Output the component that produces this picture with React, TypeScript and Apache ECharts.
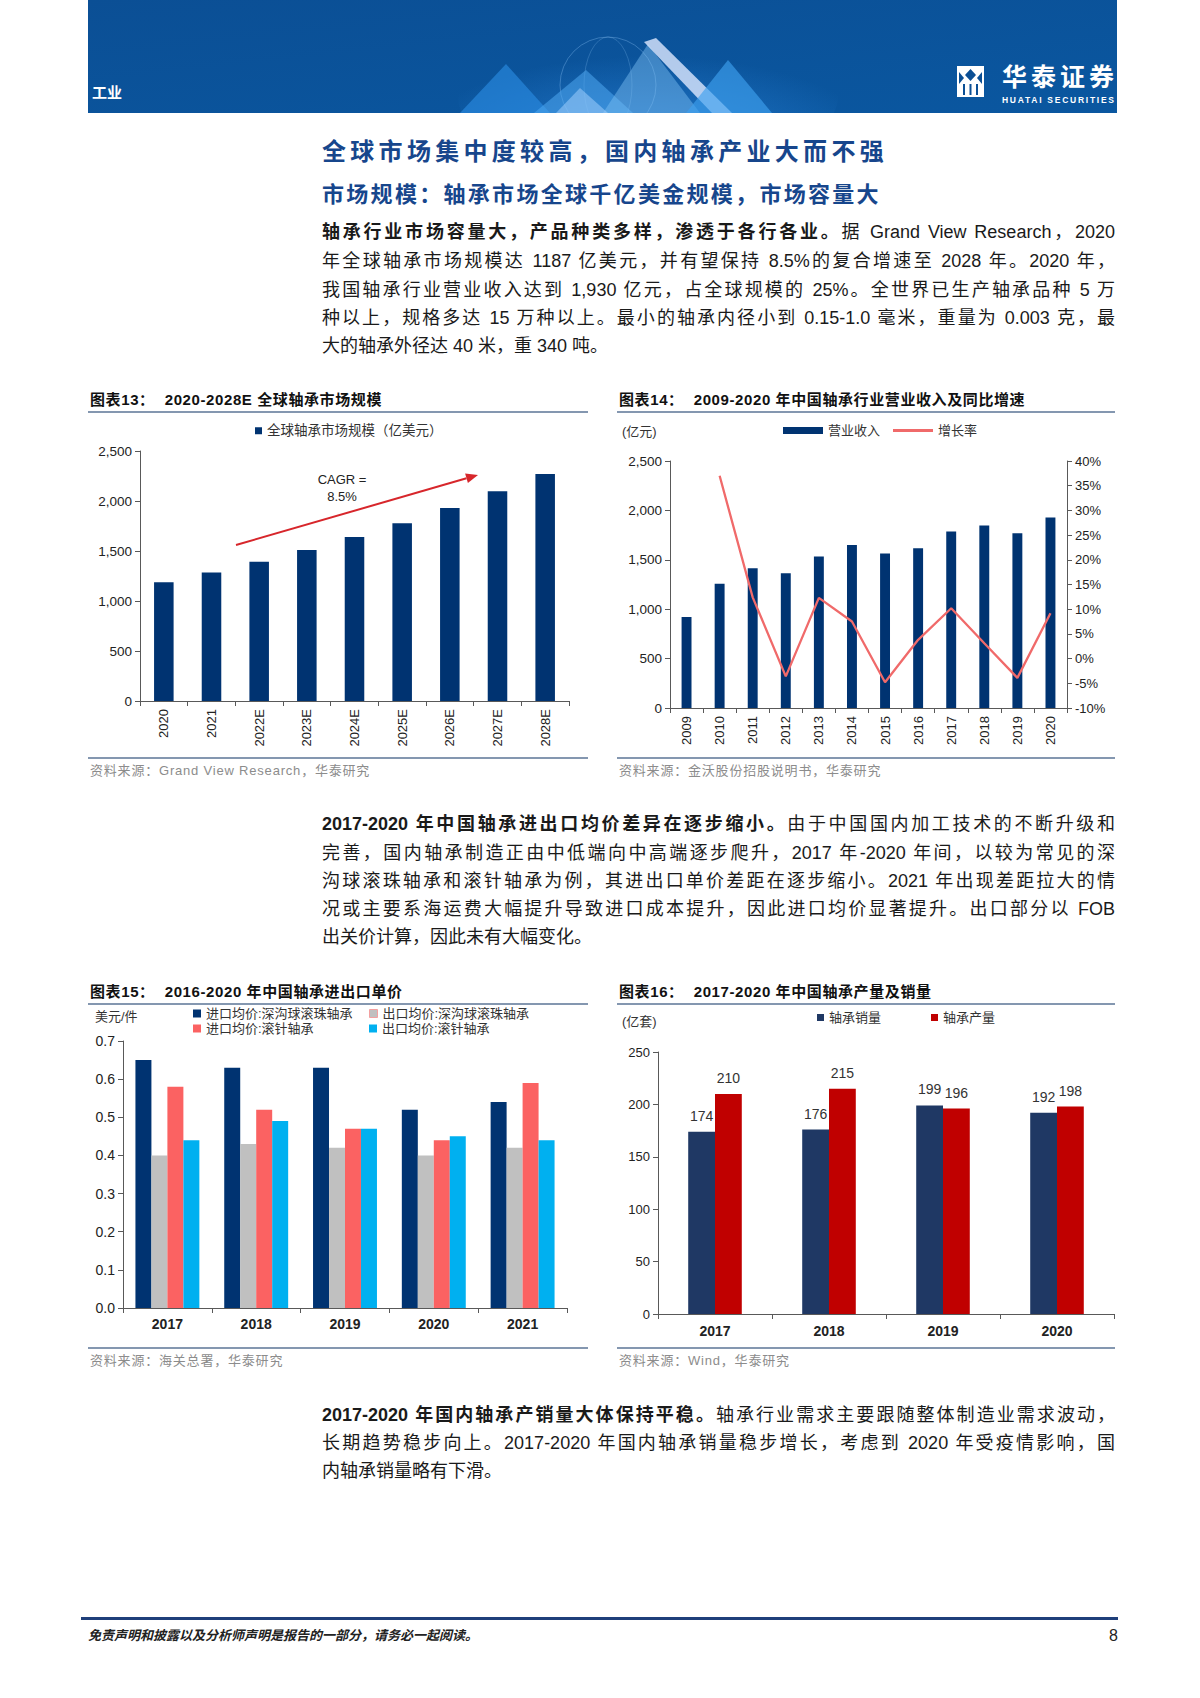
import React, { useEffect, useRef } from "react";
import * as echarts from "echarts";

const FONT = '"Liberation Sans", "Noto Sans CJK SC", sans-serif';

// ---------- Chart 13 data ----------
const years13 = ["2020", "2021", "2022E", "2023E", "2024E", "2025E", "2026E", "2027E", "2028E"];
const market13 = [1187, 1284, 1392, 1510, 1641, 1778, 1930, 2098, 2270];
const yAxis13 = { min: 0, max: 2500, interval: 500 };

// ---------- Chart 14 data ----------
const years14 = ["2009", "2010", "2011", "2012", "2013", "2014", "2015", "2016", "2017", "2018", "2019", "2020"];
const revenue14 = [920, 1257, 1415, 1365, 1533, 1651, 1563, 1617, 1786, 1846, 1769, 1927];
const growth14 = [null, 37.0, 12.4, -3.6, 12.3, 7.5, -4.8, 3.8, 10.2, 3.1, -3.9, 9.2];
const yLeft14 = { min: 0, max: 2500, interval: 500 };
const yRight14 = { min: -10, max: 40, interval: 5 };

// ---------- Chart 15 data ----------
const years15 = ["2017", "2018", "2019", "2020", "2021"];
const importBall15 = [0.65, 0.63, 0.63, 0.52, 0.54];
const exportBall15 = [0.4, 0.43, 0.42, 0.4, 0.42];
const importNeedle15 = [0.58, 0.52, 0.47, 0.44, 0.59];
const exportNeedle15 = [0.44, 0.49, 0.47, 0.45, 0.44];
const yAxis15 = { min: 0, max: 0.7, interval: 0.1 };

// ---------- Chart 16 data ----------
const years16 = ["2017", "2018", "2019", "2020"];
const sales16 = [174, 176, 199, 192];
const output16 = [210, 215, 196, 198];
const yAxis16 = { min: 0, max: 250, interval: 50 };

const AXIS_COLOR = "#595959";
const LABEL_COLOR = "#222";

function EChart({ option, style }: { option: any; style: React.CSSProperties }) {
  const ref = useRef<HTMLDivElement>(null);
  useEffect(() => {
    const chart = echarts.init(ref.current as HTMLDivElement, undefined, { renderer: "svg" });
    chart.setOption(option);
    return () => chart.dispose();
  }, []);
  return <div ref={ref} style={style} />;
}

const commonAxisLine = { show: true, lineStyle: { color: AXIS_COLOR, width: 1 } };
const commonTick = { show: true, length: 5, lineStyle: { color: AXIS_COLOR } };

const option13 = {
  animation: false,
  textStyle: { fontFamily: FONT },
  grid: { left: 52, right: 19, top: 36, bottom: 54 },
  legend: {
    data: ["全球轴承市场规模（亿美元）"],
    left: 167,
    top: 9,
    padding: 0,
    icon: "rect",
    itemWidth: 7,
    itemHeight: 7,
    itemStyle: { color: "#003371" },
    textStyle: { fontSize: 13.5, color: "#333", fontFamily: FONT },
  },
  xAxis: {
    type: "category",
    data: years13,
    axisLine: commonAxisLine,
    axisTick: commonTick,
    axisLabel: { rotate: 90, fontSize: 13, color: LABEL_COLOR, margin: 8, fontFamily: FONT },
  },
  yAxis: {
    type: "value",
    ...yAxis13,
    splitLine: { show: false },
    axisLine: commonAxisLine,
    axisTick: commonTick,
    axisLabel: {
      fontSize: 13.5,
      color: LABEL_COLOR,
      fontFamily: FONT,
      formatter: (v: number) => v.toLocaleString("en-US"),
    },
  },
  series: [
    {
      type: "bar",
      name: "全球轴承市场规模（亿美元）",
      data: market13,
      barWidth: "41%",
      itemStyle: { color: "#003371" },
    },
  ],
  graphic: [
    {
      type: "line",
      shape: { x1: 148, y1: 130, x2: 378.5, y2: 63.3 },
      style: { stroke: "#d7262b", lineWidth: 2 },
    },
    {
      type: "polygon",
      shape: { points: [[390, 60], [379.9, 68.1], [377.1, 58.5]] },
      style: { fill: "#d7262b" },
    },
    {
      type: "text",
      x: 254,
      y: 64,
      style: { text: "CAGR =", fontSize: 13, fill: "#222", fontFamily: FONT, textAlign: "center", textVerticalAlign: "middle", align: "center", verticalAlign: "middle" },
    },
    {
      type: "text",
      x: 254,
      y: 81,
      style: { text: "8.5%", fontSize: 13, fill: "#222", fontFamily: FONT, textAlign: "center", textVerticalAlign: "middle", align: "center", verticalAlign: "middle" },
    },
  ],
};

const option14 = {
  animation: false,
  textStyle: { fontFamily: FONT },
  grid: { left: 53, right: 48, top: 46, bottom: 47 },
  legend: [
    {
      data: ["营业收入"],
      left: 166,
      top: 9,
      padding: 0,
      icon: "rect",
      itemWidth: 40,
      itemHeight: 7,
      itemStyle: { color: "#003371" },
      textStyle: { fontSize: 13, color: "#333", fontFamily: FONT },
    },
    {
      data: ["增长率"],
      left: 276,
      top: 9,
      padding: 0,
      icon: "rect",
      itemWidth: 40,
      itemHeight: 3,
      itemStyle: { color: "#f06a6a" },
      textStyle: { fontSize: 13, color: "#333", fontFamily: FONT },
    },
  ],
  xAxis: {
    type: "category",
    data: years14,
    axisLine: commonAxisLine,
    axisTick: commonTick,
    axisLabel: { rotate: 90, fontSize: 13, color: LABEL_COLOR, margin: 8, fontFamily: FONT },
  },
  yAxis: [
    {
      type: "value",
      ...yLeft14,
      splitLine: { show: false },
      axisLine: commonAxisLine,
      axisTick: commonTick,
      axisLabel: {
        fontSize: 13.5,
        color: LABEL_COLOR,
        fontFamily: FONT,
        formatter: (v: number) => v.toLocaleString("en-US"),
      },
    },
    {
      type: "value",
      position: "right",
      ...yRight14,
      splitLine: { show: false },
      axisLine: commonAxisLine,
      axisTick: commonTick,
      axisLabel: { fontSize: 13, color: LABEL_COLOR, fontFamily: FONT, formatter: (v: number) => v + "%" },
    },
  ],
  series: [
    {
      type: "bar",
      name: "营业收入",
      data: revenue14,
      barWidth: "30%",
      itemStyle: { color: "#003371" },
    },
    {
      type: "line",
      name: "增长率",
      yAxisIndex: 1,
      data: growth14,
      showSymbol: false,
      symbol: "none",
      lineStyle: { color: "#f06a6a", width: 2.3 },
      itemStyle: { color: "#f06a6a" },
    },
  ],
  graphic: [
    {
      type: "text",
      x: 5,
      y: 16,
      style: { text: "(亿元)", fontSize: 13, fill: "#333", fontFamily: FONT, textVerticalAlign: "middle", verticalAlign: "middle" },
    },
  ],
};

const names15 = ["进口均价:深沟球滚珠轴承", "出口均价:深沟球滚珠轴承", "进口均价:滚针轴承", "出口均价:滚针轴承"];
const colors15 = ["#003371", "#c0c0c0", "#fb6262", "#00b0f0"];
const legendPos15 = [
  [105, 3],
  [281, 3],
  [105, 18],
  [281, 18],
];

const option15 = {
  animation: false,
  textStyle: { fontFamily: FONT },
  grid: { left: 35, right: 21, top: 37, bottom: 38 },
  legend: names15.map((n, i) => ({
    data: [n],
    left: legendPos15[i][0],
    top: legendPos15[i][1],
    padding: 0,
    icon: "rect",
    itemWidth: 8,
    itemHeight: 8,
    itemStyle:
      i === 1
        ? { color: colors15[i], borderColor: "#f3a0a0", borderWidth: 1 }
        : { color: colors15[i], borderWidth: 0 },
    textStyle: { fontSize: 13, color: "#333", fontFamily: FONT },
  })),
  xAxis: {
    type: "category",
    data: years15,
    axisLine: commonAxisLine,
    axisTick: commonTick,
    axisLabel: { fontSize: 14, fontWeight: "bold", color: LABEL_COLOR, margin: 9, fontFamily: FONT },
  },
  yAxis: {
    type: "value",
    ...yAxis15,
    splitLine: { show: false },
    axisLine: commonAxisLine,
    axisTick: commonTick,
    axisLabel: { fontSize: 14, color: LABEL_COLOR, fontFamily: FONT, formatter: (v: number) => v.toFixed(1) },
  },
  series: [importBall15, exportBall15, importNeedle15, exportNeedle15].map((d, i) => ({
    type: "bar",
    name: names15[i],
    data: d,
    barWidth: "18%",
    barGap: "0%",
    itemStyle: { color: colors15[i] },
  })),
  graphic: [
    {
      type: "text",
      x: 7,
      y: 12,
      style: { text: "美元/件", fontSize: 13, fill: "#333", fontFamily: FONT, textVerticalAlign: "middle", verticalAlign: "middle" },
    },
  ],
};

const option16 = {
  animation: false,
  textStyle: { fontFamily: FONT },
  grid: { left: 41, right: 1, top: 48, bottom: 31 },
  legend: [
    {
      data: ["轴承销量"],
      left: 200,
      top: 7,
      padding: 0,
      icon: "rect",
      itemWidth: 7,
      itemHeight: 7,
      itemStyle: { color: "#1f3864" },
      textStyle: { fontSize: 13, color: "#333", fontFamily: FONT },
    },
    {
      data: ["轴承产量"],
      left: 314,
      top: 7,
      padding: 0,
      icon: "rect",
      itemWidth: 7,
      itemHeight: 7,
      itemStyle: { color: "#c00000" },
      textStyle: { fontSize: 13, color: "#333", fontFamily: FONT },
    },
  ],
  xAxis: {
    type: "category",
    data: years16,
    axisLine: commonAxisLine,
    axisTick: commonTick,
    axisLabel: { fontSize: 14, fontWeight: "bold", color: LABEL_COLOR, margin: 10, fontFamily: FONT },
  },
  yAxis: {
    type: "value",
    ...yAxis16,
    splitLine: { show: false },
    axisLine: commonAxisLine,
    axisTick: commonTick,
    axisLabel: { fontSize: 13, color: LABEL_COLOR, fontFamily: FONT },
  },
  series: [
    {
      type: "bar",
      name: "轴承销量",
      data: sales16,
      barWidth: "23.5%",
      barGap: "0%",
      itemStyle: { color: "#1f3864" },
      label: { show: true, position: "top", distance: 9, fontSize: 14, color: "#333", fontFamily: FONT },
    },
    {
      type: "bar",
      name: "轴承产量",
      data: output16,
      barWidth: "23.5%",
      barGap: "0%",
      itemStyle: { color: "#c00000" },
      label: { show: true, position: "top", distance: 9, fontSize: 14, color: "#333", fontFamily: FONT },
    },
  ],
  graphic: [
    {
      type: "text",
      x: 5,
      y: 17,
      style: { text: "(亿套)", fontSize: 13, fill: "#333", fontFamily: FONT, textVerticalAlign: "middle", verticalAlign: "middle" },
    },
  ],
};

const abs = (s: React.CSSProperties): React.CSSProperties => ({ position: "absolute", ...s });

function ChartHead({ x, w, y, label, title }: { x: number; w: number; y: number; label: string; title: string }) {
  return (
    <>
      <div style={abs({ left: x + 2, top: y - 10, height: 20, lineHeight: "20px", fontSize: 15, fontWeight: 700, color: "#111", letterSpacing: 0.6, whiteSpace: "nowrap" })}>
        {label}
        <span style={{ marginLeft: 10 }}>{title}</span>
      </div>
      <div style={abs({ left: x, top: y + 11, width: w, height: 1.5, background: "#8497b0" })} />
    </>
  );
}

function Source({ x, w, y, text }: { x: number; w: number; y: number; text: string }) {
  return (
    <>
      <div style={abs({ left: x, top: y, width: w, height: 1.5, background: "#8497b0" })} />
      <div style={abs({ left: x + 2, top: y + 5, height: 18, lineHeight: "18px", fontSize: 13, color: "#8c8c8c", letterSpacing: 0.8, whiteSpace: "nowrap" })}>{text}</div>
    </>
  );
}

function Line({ cy, children, last }: { cy: number; children: React.ReactNode; last?: boolean }) {
  return (
    <div
      style={abs({
        left: 322,
        top: cy - 14,
        width: 793,
        height: 28,
        lineHeight: "28px",
        fontSize: 18,
        color: "#1a1a1a",
        textAlign: last ? "left" : "justify",
        textAlignLast: last ? "left" : "justify",
      } as React.CSSProperties)}
    >
      {children}
    </div>
  );
}

function Header() {
  return (
    <svg style={abs({ left: 88, top: 0 })} width={1029} height={113}>
      <defs>
        <linearGradient id="hg" x1="0" y1="0" x2="1" y2="1">
          <stop offset="0" stopColor="#0b4f95" />
          <stop offset="1" stopColor="#0a57a0" />
        </linearGradient>
        <radialGradient id="glow" cx="0.5" cy="0.8" r="0.6">
          <stop offset="0" stopColor="#3fa0ff" stopOpacity="0.45" />
          <stop offset="1" stopColor="#3fa0ff" stopOpacity="0" />
        </radialGradient>
      </defs>
      <rect width={1029} height={113} fill="url(#hg)" />
      <ellipse cx={560} cy={98} rx={190} ry={70} fill="url(#glow)" />
      <circle cx={520} cy={85} r={48} fill="none" stroke="#8cc4f5" strokeOpacity={0.35} />
      <ellipse cx={520} cy={85} rx={24} ry={48} fill="none" stroke="#8cc4f5" strokeOpacity={0.25} />
      <polygon points="372,113 418,64 462,113" fill="#2a8be0" fillOpacity={0.65} />
      <polygon points="446,113 498,70 545,113" fill="#4fa8f0" fillOpacity={0.55} />
      <polygon points="515,113 560,44 612,113" fill="#7fc0f5" fillOpacity={0.45} />
      <polygon points="556,42 568,38 644,113 624,113" fill="#dde9ff" fillOpacity={0.8} />
      <polygon points="598,113 640,60 684,113" fill="#3ea0ee" fillOpacity={0.65} />
      <polygon points="468,113 492,88 520,113" fill="#a8d4ff" fillOpacity={0.5} />
      <text x={4} y={98} fill="#fff" fontSize={15} fontWeight={700} fontFamily={FONT}>
        工业
      </text>
      {/* logo */}
      <rect x={869} y={66} width={27} height={31} fill="#fff" />
      <polygon points="882.5,69 888,75 882.5,81 877,75" fill="#0b4f95" />
      <polygon points="871,72 876,78 871,84" fill="#0b4f95" />
      <polygon points="894,72 889,78 894,84" fill="#0b4f95" />
      <rect x={875} y={84} width={2} height={11} fill="#0b4f95" />
      <rect x={881.5} y={84} width={2} height={11} fill="#0b4f95" />
      <rect x={888} y={84} width={2} height={11} fill="#0b4f95" />
      <text x={914} y={86} fill="#fff" fontSize={25} fontWeight={700} fontFamily={FONT} textLength={112} lengthAdjust="spacing">
        华泰证券
      </text>
      <text x={914} y={103} fill="#fff" fontSize={8.5} fontWeight={700} fontFamily={FONT} textLength={112} lengthAdjust="spacing">
        HUATAI SECURITIES
      </text>
    </svg>
  );
}

export default function App() {
  return (
    <div style={abs({ left: 0, top: 0, width: 1200, height: 1698, background: "#fff", fontFamily: FONT, overflow: "hidden" })}>
      <Header />

      <div style={abs({ left: 322, top: 137, height: 30, lineHeight: "30px", fontSize: 24, fontWeight: 700, color: "#17468c", letterSpacing: 4.3, whiteSpace: "nowrap" })}>
        全球市场集中度较高，国内轴承产业大而不强
      </div>
      <div style={abs({ left: 322, top: 181, height: 28, lineHeight: "28px", fontSize: 22, fontWeight: 700, color: "#17468c", letterSpacing: 2.3, whiteSpace: "nowrap" })}>
        市场规模：轴承市场全球千亿美金规模，市场容量大
      </div>

      <Line cy={232}>
        <b>轴承行业市场容量大，产品种类多样，渗透于各行各业。</b>据 Grand View Research，2020
      </Line>
      <Line cy={261}>年全球轴承市场规模达 1187 亿美元，并有望保持 8.5%的复合增速至 2028 年。2020 年，</Line>
      <Line cy={290}>我国轴承行业营业收入达到 1,930 亿元，占全球规模的 25%。全世界已生产轴承品种 5 万</Line>
      <Line cy={318}>种以上，规格多达 15 万种以上。最小的轴承内径小到 0.15-1.0 毫米，重量为 0.003 克，最</Line>
      <Line cy={346} last>
        大的轴承外径达 40 米，重 340 吨。
      </Line>

      <ChartHead x={88} w={500} y={400} label="图表13：" title="2020-2028E 全球轴承市场规模" />
      <EChart option={option13} style={abs({ left: 88, top: 415, width: 500, height: 340 })} />
      <Source x={88} w={500} y={757} text="资料来源：Grand View Research，华泰研究" />

      <ChartHead x={617} w={498} y={400} label="图表14：" title="2009-2020 年中国轴承行业营业收入及同比增速" />
      <EChart option={option14} style={abs({ left: 617, top: 415, width: 498, height: 340 })} />
      <Source x={617} w={498} y={757} text="资料来源：金沃股份招股说明书，华泰研究" />

      <Line cy={824}>
        <b>2017-2020 年中国轴承进出口均价差异在逐步缩小。</b>由于中国国内加工技术的不断升级和
      </Line>
      <Line cy={853}>完善，国内轴承制造正由中低端向中高端逐步爬升，2017 年-2020 年间，以较为常见的深</Line>
      <Line cy={881}>沟球滚珠轴承和滚针轴承为例，其进出口单价差距在逐步缩小。2021 年出现差距拉大的情</Line>
      <Line cy={909}>况或主要系海运费大幅提升导致进口成本提升，因此进口均价显著提升。出口部分以 FOB</Line>
      <Line cy={937} last>
        出关价计算，因此未有大幅变化。
      </Line>

      <ChartHead x={88} w={500} y={992} label="图表15：" title="2016-2020 年中国轴承进出口单价" />
      <EChart option={option15} style={abs({ left: 88, top: 1004, width: 500, height: 342 })} />
      <Source x={88} w={500} y={1347} text="资料来源：海关总署，华泰研究" />

      <ChartHead x={617} w={498} y={992} label="图表16：" title="2017-2020 年中国轴承产量及销量" />
      <EChart option={option16} style={abs({ left: 617, top: 1004, width: 498, height: 341 })} />
      <Source x={617} w={498} y={1347} text="资料来源：Wind，华泰研究" />

      <Line cy={1415}>
        <b>2017-2020 年国内轴承产销量大体保持平稳。</b>轴承行业需求主要跟随整体制造业需求波动，
      </Line>
      <Line cy={1443}>长期趋势稳步向上。2017-2020 年国内轴承销量稳步增长，考虑到 2020 年受疫情影响，国</Line>
      <Line cy={1471} last>
        内轴承销量略有下滑。
      </Line>

      <div style={abs({ left: 81, top: 1617, width: 1037, height: 3, background: "#1f3f7a" })} />
      <div style={abs({ left: 88, top: 1626, height: 20, lineHeight: "20px", fontSize: 13, fontStyle: "italic", fontWeight: 700, color: "#222", whiteSpace: "nowrap" })}>
        免责声明和披露以及分析师声明是报告的一部分，请务必一起阅读。
      </div>
      <div style={abs({ left: 1080, top: 1626, width: 38, height: 20, lineHeight: "20px", fontSize: 16, color: "#222", textAlign: "right" })}>8</div>
    </div>
  );
}
